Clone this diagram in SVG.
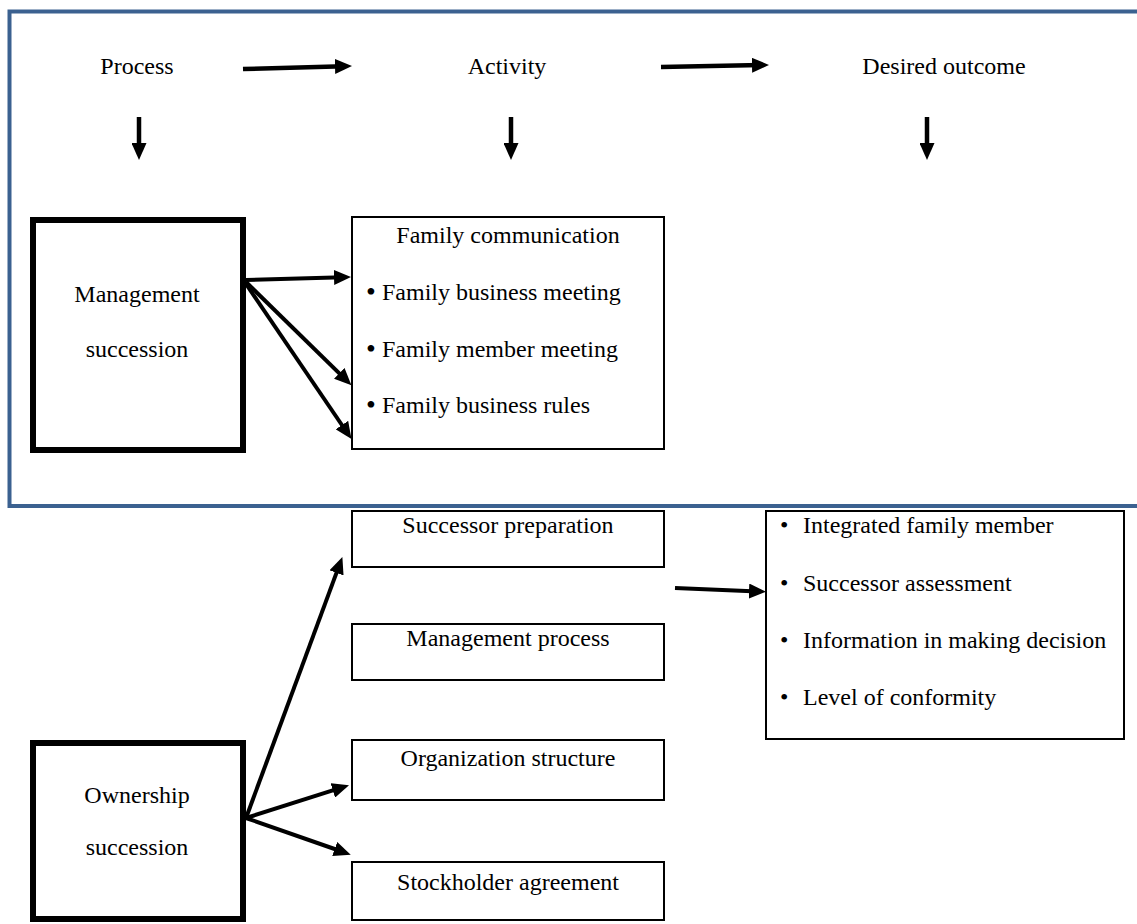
<svg xmlns="http://www.w3.org/2000/svg" width="1137" height="924" viewBox="0 0 1137 924">
<style>
text{font-family:"Liberation Serif","Times New Roman",serif;font-size:24px;fill:#000}
.c{text-anchor:middle}
.b{font-size:28px}
.thick{fill:#fff;stroke:#000;stroke-width:6}
.thin{fill:#fff;stroke:#000;stroke-width:2}
.ln{fill:none;stroke:#000;stroke-width:4.5;marker-end:url(#ah)}
.ln2{fill:none;stroke:#000;stroke-width:4;marker-end:url(#ah)}
</style>
<defs>
<marker id="ah" viewBox="0 0 17 15" refX="9" refY="7.5" markerWidth="17" markerHeight="15" markerUnits="userSpaceOnUse" orient="auto">
<path d="M0,0 L17,7.5 L0,15 z" fill="#000"/>
</marker>
</defs>
<rect width="1137" height="924" fill="#fff"/>
<rect id="frame" x="9.5" y="11.5" width="1140" height="494.5" fill="none" stroke="#3b6190" stroke-width="4"/>

<g id="hdr-process"><text class="c" x="137" y="74">Process</text></g>
<g id="hdr-activity"><text class="c" x="507" y="74">Activity</text></g>
<g id="hdr-outcome"><text class="c" x="944" y="74">Desired outcome</text></g>

<g id="n-mgmt">
<rect class="thick" x="33" y="220" width="210" height="230"/>
<text class="c" x="137" y="302">Management</text>
<text class="c" x="137" y="357">succession</text>
</g>
<g id="n-famcomm">
<rect class="thin" x="352" y="217" width="312" height="232"/>
<text class="c" x="508" y="243">Family communication</text>
<text x="366" y="301"><tspan class="b">•</tspan><tspan x="382" y="300">Family business meeting</tspan></text>
<text x="366" y="358"><tspan class="b">•</tspan><tspan x="382" y="357">Family member meeting</tspan></text>
<text x="366" y="414"><tspan class="b">•</tspan><tspan x="382" y="413">Family business rules</tspan></text>
</g>
<g id="n-succprep">
<rect class="thin" x="352" y="511" width="312" height="56"/>
<text class="c" x="508" y="533">Successor preparation</text>
</g>
<g id="n-mgmtproc">
<rect class="thin" x="352" y="624" width="312" height="56"/>
<text class="c" x="508" y="646">Management process</text>
</g>
<g id="n-orgstruct">
<rect class="thin" x="352" y="740" width="312" height="60"/>
<text class="c" x="508" y="766">Organization structure</text>
</g>
<g id="n-stock">
<rect class="thin" x="352" y="862" width="312" height="58"/>
<text class="c" x="508" y="890">Stockholder agreement</text>
</g>
<g id="n-owner">
<rect class="thick" x="33" y="743" width="210" height="176"/>
<text class="c" x="137" y="803">Ownership</text>
<text class="c" x="137" y="855">succession</text>
</g>
<g id="n-outcome">
<rect class="thin" x="766" y="511" width="358" height="228"/>
<text x="780" y="533">•<tspan x="803">Integrated family member</tspan></text>
<text x="780" y="591">•<tspan x="803">Successor assessment</tspan></text>
<text x="780" y="648">•<tspan x="803">Information in making decision</tspan></text>
<text x="780" y="705">•<tspan x="803">Level of conformity</tspan></text>
</g>

<g id="connectors">
<line class="ln" x1="243" y1="69" x2="344" y2="66.2"/>
<line class="ln" x1="661" y1="67" x2="761" y2="65.1"/>
<line class="ln" x1="139" y1="117" x2="139" y2="152"/>
<line class="ln" x1="511" y1="117" x2="511" y2="152"/>
<line class="ln" x1="927" y1="117" x2="927" y2="152"/>
<line class="ln2" x1="246" y1="280" x2="343" y2="277.2"/>
<line class="ln2" x1="246" y1="282" x2="345.7" y2="379.6"/>
<line class="ln2" x1="246" y1="284" x2="347" y2="432.5"/>
<line class="ln2" x1="675" y1="588" x2="758" y2="591.4"/>
<line class="ln2" x1="246" y1="818" x2="339.6" y2="564.4"/>
<line class="ln2" x1="246" y1="818" x2="341.4" y2="787.7"/>
<line class="ln2" x1="246" y1="818" x2="343.2" y2="852"/>
</g>
</svg>
